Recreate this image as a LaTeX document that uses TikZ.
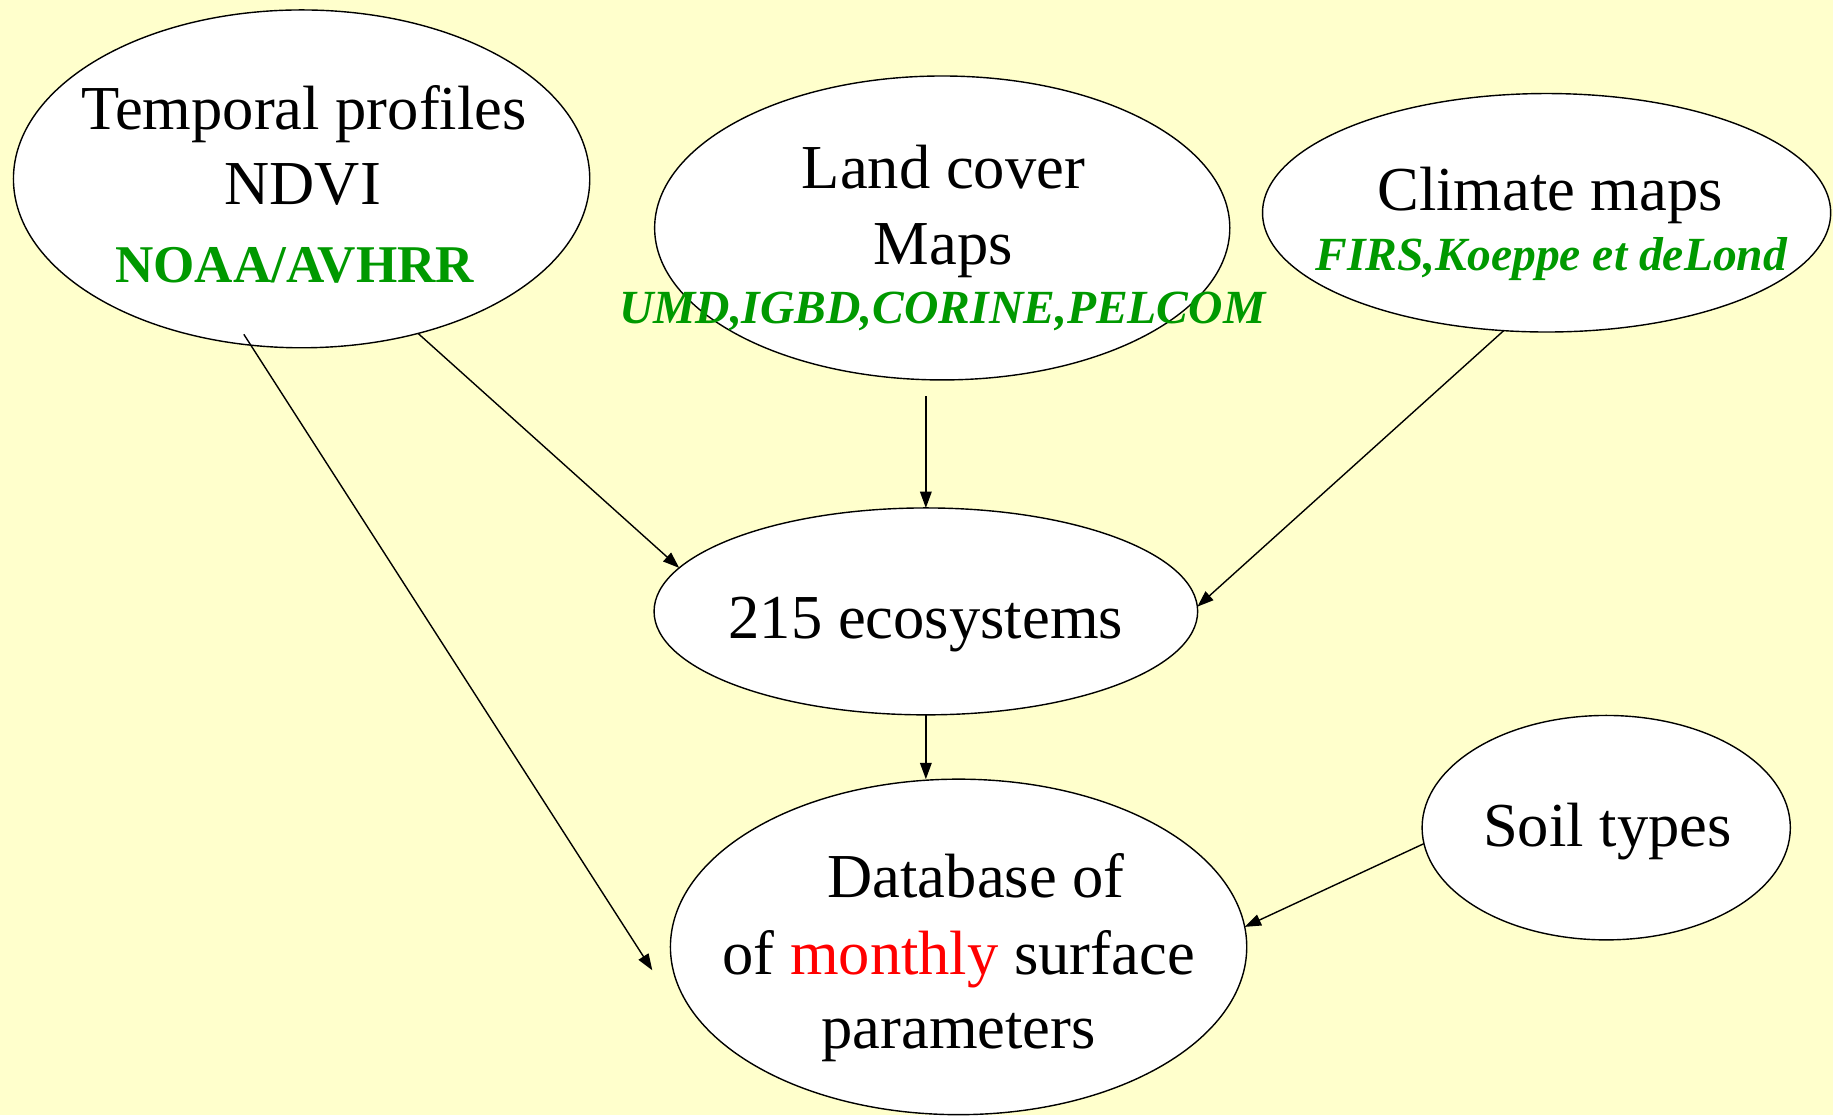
\documentclass[tikz,border=0pt]{standalone}
\usepackage{fontspec}
\setmainfont{Liberation Serif}
\usetikzlibrary{shapes.geometric,arrows.meta,calc}
\definecolor{bgyellow}{RGB}{255,255,204}
\definecolor{dkgreen}{RGB}{0,153,0}
\begin{document}
\begin{tikzpicture}[x=0.5pt,y=-0.5pt,
 ell/.style={ellipse,draw=black,fill=white,line width=0.6pt,inner sep=0pt,outer sep=0pt},
 txt/.style={anchor=base,inner sep=0pt,font=\fontsize{26.75}{32}\selectfont},
 gtxt/.style={anchor=base,inner sep=0pt,text=dkgreen,font=\fontsize{22.7}{27}\selectfont\bfseries},
 gitxt/.style={anchor=base,inner sep=0pt,text=dkgreen,font=\fontsize{20.35}{24}\selectfont\bfseries\itshape},
 arr/.style={draw=black,line width=0.6pt,-{Triangle[length=7pt,width=5pt]}}]
\fill[bgyellow] (0,0) rectangle (1568,954);
\useasboundingbox (0,0) rectangle (1568,954);
% ellipses
\node[ell,minimum width=246.5pt,minimum height=144.5pt] (e1) at (258,153) {};
\node[ell,minimum width=246pt,minimum height=130pt] (e2) at (806,195) {};
\node[ell,minimum width=243pt,minimum height=102pt] (e3) at (1323,182) {};
\node[ell,minimum width=232.5pt,minimum height=88.5pt] (e4) at (792,523) {};
\node[ell,minimum width=246.5pt,minimum height=143.5pt] (e5) at (820,810) {};
\node[ell,minimum width=157.5pt,minimum height=96pt] (e6) at (1374,708) {};
% texts
\node[txt] (t1a) at (260,111) {Temporal profiles};
\node[txt] (t1b) at (259,175) {NDVI};
\node[gtxt] (t1c) at (252,242) {NOAA/AVHRR};
\node[txt] (t2a) at (807,161) {Land cover};
\node[txt] (t2b) at (807,226) {Maps};
\node[gitxt] (t2c) at (806,277) {UMD,IGBD,CORINE,PELCOM};
\node[txt] (t3a) at (1326,180) {Climate maps};
\node[gitxt] (t3b) at (1327,231) {FIRS,Koeppe et deLond};
\node[txt] (t4) at (792,546) {215 ecosystems};
\node[txt] (t5a) at (835,768) {Database of};
\node[txt] (t5b) at (820,834) {of \textcolor{red}{monthly} surface};
\node[txt] (t5c) at (820,897) {parameters};
\node[txt] (t6) at (1375,724) {Soil types};
% connectors
\coordinate (a1end) at (558,830);
\draw[arr,shorten <=-5.5pt] (e1.-107.95) -- (a1end);
\draw[arr] (e1.-53.2) -- (e4.170.3);
\draw[arr,shorten <=7pt] (e2.south -| e4.north) -- (e4.north);
\draw[arr] (e3.-110.9) -- (e4.1.9);
\draw[arr] (e4.south) -- (e4.south |- e5.north);
\draw[arr] (e6.185.1) -- (e5.4.6);
\end{tikzpicture}
\end{document}
